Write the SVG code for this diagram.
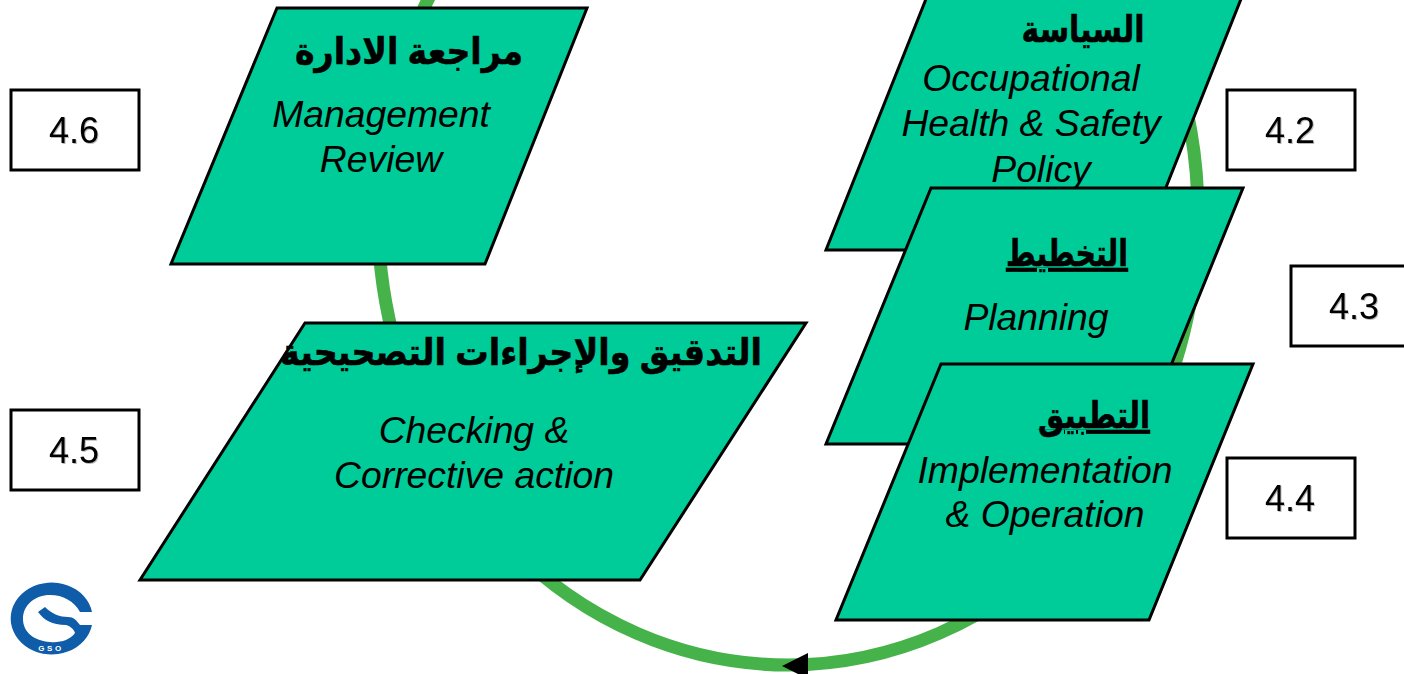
<svg xmlns="http://www.w3.org/2000/svg" width="1404" height="674" viewBox="0 0 1404 674">
<style>
.p{fill:#00cc99;stroke:#000;stroke-width:3;stroke-linejoin:miter}
.b{fill:#fff;stroke:#000;stroke-width:3}
.n{font:36px "Liberation Sans",Arial,sans-serif;fill:#000;text-anchor:middle;filter:drop-shadow(1.5px 1.5px 0 #b8b8b8)}
.e{font:italic 37.3px "Liberation Sans",Arial,sans-serif;fill:#000;text-anchor:middle}
.a{font:bold 37px "Liberation Sans","DejaVu Sans",sans-serif;fill:#000;stroke:#000;stroke-width:.6;text-anchor:middle}
</style>
<rect width="1404" height="674" fill="#fff"/>
<g id="connectors">
<ellipse cx="788" cy="215" rx="410" ry="450" fill="none" stroke="#46b34a" stroke-width="13"/>
<polygon points="782,666 808,653 808,679" fill="#000"/>
</g>
<g id="node-management">
<polygon class="p" points="277,8 587,8 485,264 171,264"/>
<text class="a" x="409" y="64" direction="rtl" textLength="228" lengthAdjust="spacingAndGlyphs">مراجعة الادارة</text>
<text class="e" x="381" y="127">Management</text>
<text class="e" x="381" y="172">Review</text>
</g>
<g id="node-policy">
<polygon class="p" points="928,-6 1243,-6 1141,250 826,250"/>
<text class="a" x="1083" y="42" direction="rtl" textLength="123" lengthAdjust="spacingAndGlyphs">السياسة</text>
<text class="e" x="1031" y="91">Occupational</text>
<text class="e" x="1031" y="136">Health &amp; Safety</text>
<text class="e" x="1041" y="182">Policy</text>
</g>
<g id="node-planning">
<polygon class="p" points="931,188 1243,188 1139,444 826,444"/>
<text class="a" x="1067" y="266" direction="rtl" textLength="122" lengthAdjust="spacingAndGlyphs" text-decoration="underline">التخطيط</text>
<text class="e" x="1036" y="330">Planning</text>
</g>
<g id="node-implementation">
<polygon class="p" points="941,364 1253,364 1149,620 836,620"/>
<text class="a" x="1094" y="428" direction="rtl" textLength="112" lengthAdjust="spacingAndGlyphs" text-decoration="underline">التطبيق</text>
<text class="e" x="1045" y="483">Implementation</text>
<text class="e" x="1045" y="527">&amp; Operation</text>
</g>
<g id="node-checking">
<polygon class="p" points="305,323 806,323 640,580 140,580"/>
<text class="a" x="521" y="365" direction="rtl" textLength="482" lengthAdjust="spacingAndGlyphs">التدقيق والإجراءات التصحيحية</text>
<text class="e" x="474" y="443">Checking &amp;</text>
<text class="e" x="474" y="488">Corrective action</text>
</g>
<g id="box-4-6"><rect class="b" x="11" y="90" width="128" height="80"/><text class="n" x="74" y="143">4.6</text></g>
<g id="box-4-2"><rect class="b" x="1227" y="90" width="128" height="80"/><text class="n" x="1290" y="143">4.2</text></g>
<g id="box-4-3"><rect class="b" x="1291" y="266" width="128" height="80"/><text class="n" x="1354" y="319">4.3</text></g>
<g id="box-4-4"><rect class="b" x="1227" y="458" width="128" height="80"/><text class="n" x="1290" y="511">4.4</text></g>
<g id="box-4-5"><rect class="b" x="11" y="410" width="128" height="80"/><text class="n" x="74" y="463">4.5</text></g>
<g id="logo">
<path fill="#0f5ca8" d="M92,612 A41,36 0 1 0 92,625 L80,625 C76,620 74,617 68,617 C60,617 52,614 45,607 L38,612 C44,620 52,625 66,625 C70,626 74,629 75,633 C70,640 60,643 50,642 C34,641 23,632 23,619 C23,605 35,595 50,595 C63,595 74,601 80,612 Z"/>
<text x="51" y="651" font-family="Liberation Sans,Arial,sans-serif" font-size="8" font-weight="bold" fill="#fff" text-anchor="middle" letter-spacing="2.5">GSO</text>
</g>
</svg>
